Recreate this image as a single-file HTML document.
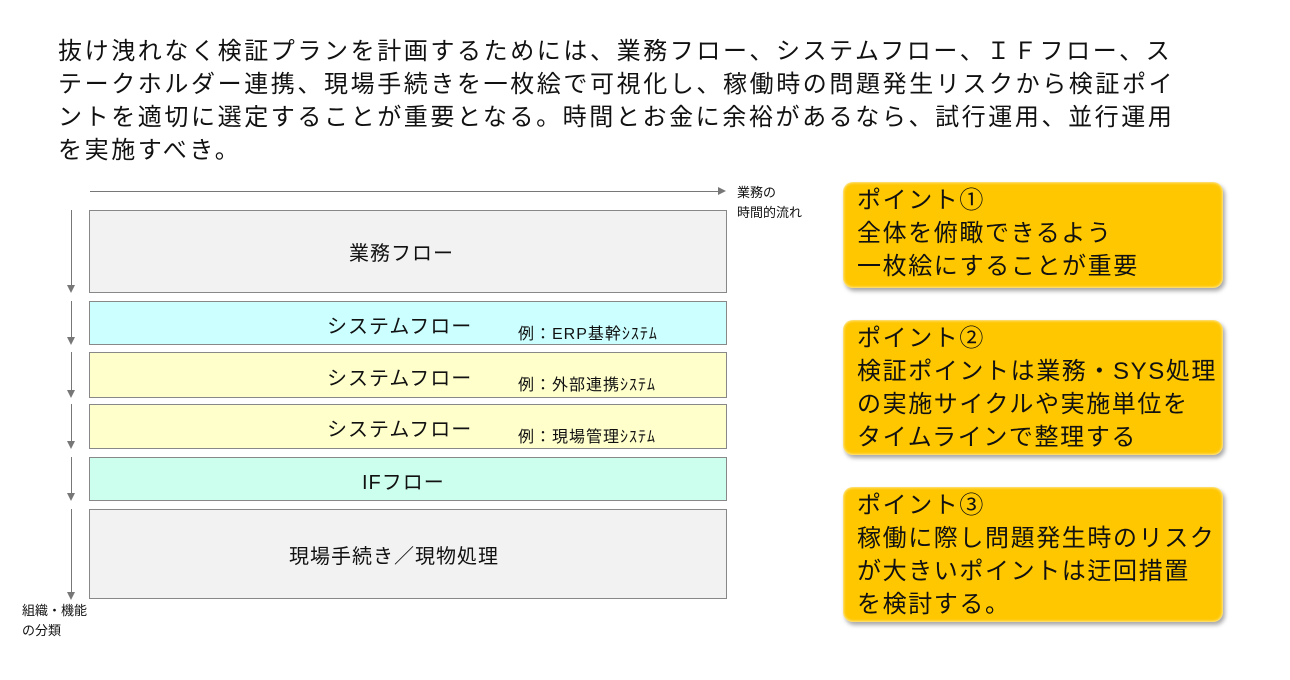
<!DOCTYPE html>
<html><head><meta charset="utf-8"><style>
body{margin:0;width:1290px;height:680px;background:#fff;position:relative;overflow:hidden;font-family:"Liberation Sans","Noto Sans CJK JP",sans-serif;color:#111}
.t{position:absolute;left:58px;top:35px;font-size:24px;line-height:33px;letter-spacing:2.6px;white-space:nowrap}
.b{position:absolute;left:89px;width:638px;border:1.5px solid #888;box-sizing:border-box;font-size:20px;letter-spacing:1px}
.b span{position:absolute}
.ex{font-size:16px;left:428px;top:18px}
.p{position:absolute;left:843px;width:380px;background:#ffc700;border-radius:10px;box-shadow:2px 3px 4px rgba(0,0,0,.35),inset 0 0 3px #fff;font-size:24px;line-height:33px;letter-spacing:1.6px;padding:2px 0 0 14px;box-sizing:border-box;white-space:nowrap}
.s{position:absolute;font-size:13px;line-height:20px}
.vl{position:absolute;left:71px;width:1px;background:#777}
.ah{position:absolute;left:67px;width:0;height:0;border-left:4px solid transparent;border-right:4px solid transparent;border-top:8px solid #777}
</style></head><body>
<div class="t">抜け洩れなく検証プランを計画するためには、業務フロー、システムフロー、ＩＦフロー、ス<br>テークホルダー連携、現場手続きを一枚絵で可視化し、稼働時の問題発生リスクから検証ポイ<br>ントを適切に選定することが重要となる。時間とお金に余裕があるなら、試行運用、並行運用<br>を実施すべき。</div>
<div style="position:absolute;left:90px;top:191px;width:628px;height:1px;background:#777"></div>
<div style="position:absolute;left:718px;top:187px;border-top:4px solid transparent;border-bottom:4px solid transparent;border-left:8px solid #777"></div>
<div class="s" style="left:737px;top:183px">業務の<br>時間的流れ</div>
<div class="s" style="left:22px;top:601px">組織・機能<br>の分類</div>

<div class="vl" style="top:210px;height:78px"></div><div class="ah" style="top:285px"></div>
<div class="vl" style="top:301px;height:38px"></div><div class="ah" style="top:337px"></div>
<div class="vl" style="top:352px;height:40px"></div><div class="ah" style="top:390px"></div>
<div class="vl" style="top:404px;height:39px"></div><div class="ah" style="top:441px"></div>
<div class="vl" style="top:457px;height:38px"></div><div class="ah" style="top:493px"></div>
<div class="vl" style="top:509px;height:85px"></div><div class="ah" style="top:592px"></div>

<div class="b" style="top:210px;height:83px;background:#f2f2f2"><span style="left:259px;top:26px">業務フロー</span></div>
<div class="b" style="top:301px;height:44px;background:#ccffff"><span style="left:237px;top:8px">システムフロー</span><span class="ex">例：ERP基幹ｼｽﾃﾑ</span></div>
<div class="b" style="top:352px;height:46px;background:#ffffcc"><span style="left:237px;top:9px">システムフロー</span><span class="ex">例：外部連携ｼｽﾃﾑ</span></div>
<div class="b" style="top:404px;height:45px;background:#ffffcc"><span style="left:237px;top:8px">システムフロー</span><span class="ex">例：現場管理ｼｽﾃﾑ</span></div>
<div class="b" style="top:457px;height:44px;background:#ccffee"><span style="left:272px;top:8px">IFフロー</span></div>
<div class="b" style="top:509px;height:90px;background:#f2f2f2"><span style="left:199px;top:30px">現場手続き／現物処理</span></div>

<div class="p" style="top:182px;height:106px">ポイント①<br>全体を俯瞰できるよう<br>一枚絵にすることが重要</div>
<div class="p" style="top:320px;height:135px">ポイント②<br>検証ポイントは業務・SYS処理<br>の実施サイクルや実施単位を<br>タイムラインで整理する</div>
<div class="p" style="top:487px;height:135px">ポイント③<br>稼働に際し問題発生時のリスク<br>が大きいポイントは迂回措置<br>を検討する。</div>
</body></html>
